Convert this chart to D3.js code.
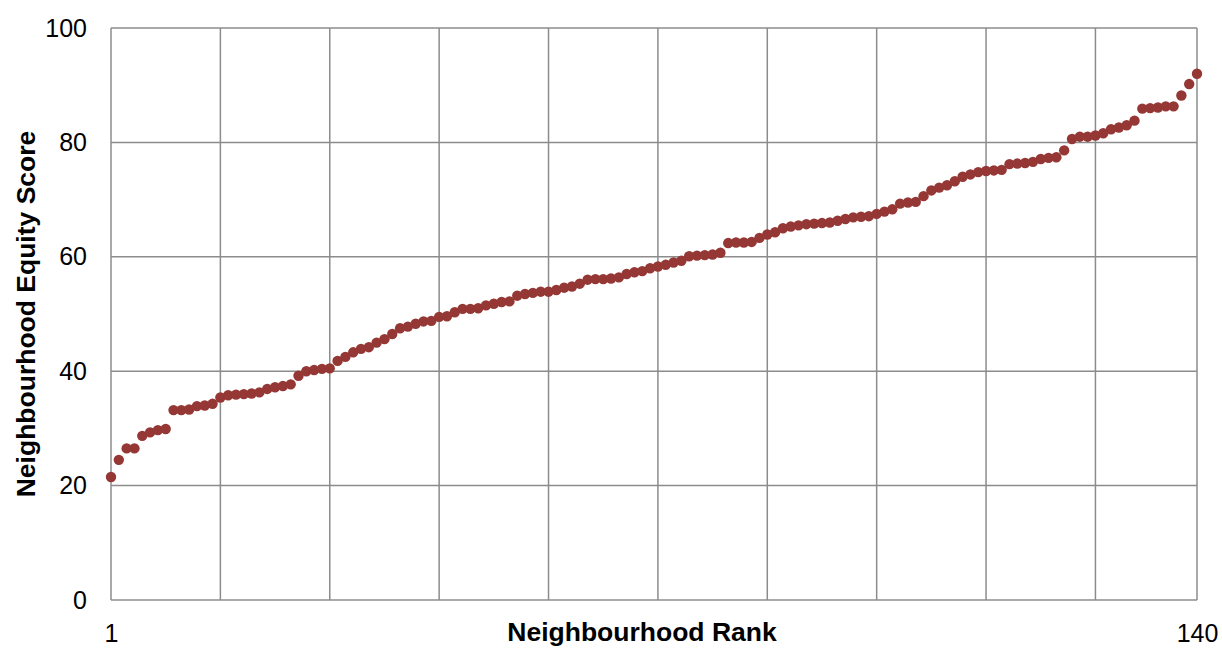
<!DOCTYPE html>
<html>
<head>
<meta charset="utf-8">
<script src="https://cdn.jsdelivr.net/npm/d3@7"></script>
<style>
  body { margin: 0; background: #fff; }
  text { font-family: "Liberation Sans", Arial, sans-serif; }
</style>
</head>
<body>
<script>
let width = 1222;
let height = 648;

// equity score per neighbourhood, sorted by rank 1..140
let scores = [
  21.5, 24.5, 26.5, 26.5, 28.7, 29.3, 29.7, 29.9, 33.2, 33.2,
  33.3, 33.9, 34.0, 34.3, 35.4, 35.8, 35.9, 36.0, 36.1, 36.3,
  36.9, 37.2, 37.4, 37.7, 39.2, 40.0, 40.2, 40.4, 40.5, 41.8,
  42.5, 43.3, 43.9, 44.2, 45.0, 45.6, 46.5, 47.5, 47.8, 48.3,
  48.7, 48.8, 49.5, 49.6, 50.3, 50.9, 50.9, 51.0, 51.5, 51.8,
  52.1, 52.2, 53.2, 53.5, 53.7, 53.9, 53.9, 54.2, 54.6, 54.8,
  55.3, 56.0, 56.1, 56.1, 56.2, 56.4, 57.0, 57.3, 57.5, 58.0,
  58.3, 58.6, 59.0, 59.3, 60.1, 60.2, 60.3, 60.4, 60.7, 62.4,
  62.5, 62.5, 62.6, 63.3, 63.9, 64.3, 65.0, 65.3, 65.5, 65.7,
  65.8, 65.9, 66.0, 66.3, 66.6, 66.9, 67.0, 67.1, 67.5, 67.9,
  68.3, 69.3, 69.5, 69.6, 70.6, 71.6, 72.1, 72.5, 73.2, 74.0,
  74.4, 74.8, 75.0, 75.1, 75.2, 76.2, 76.3, 76.4, 76.6, 77.1,
  77.3, 77.4, 78.6, 80.6, 81.0, 81.0, 81.2, 81.6, 82.3, 82.6,
  83.0, 83.8, 85.9, 86.0, 86.1, 86.3, 86.3, 88.2, 90.2, 92.0
];
let yTicks = [0, 20, 40, 60, 80, 100];
let xGrid = [1, 15, 29, 43, 57, 71, 85, 99, 113, 127, 140];
let xLabels = [1, 140];

let points = scores.map((v, i) => ({ rank: i + 1, score: v }));

let margin = { left: 111, right: 25, top: 28, bottom: 48 };

let svg = d3.select("body")
    .append("svg")
    .attr("width", width)
    .attr("height", height);

let x = d3.scaleLinear().domain([1, 140]).range([margin.left, width - margin.right]);
let y = d3.scaleLinear().domain([0, 100]).range([height - margin.bottom, margin.top]);

// grid
svg.append("g")
    .selectAll("line")
    .data(yTicks)
    .enter().append("line")
    .attr("x1", x(1)).attr("x2", x(140))
    .attr("y1", d => y(d)).attr("y2", d => y(d))
    .attr("stroke", "#8c8c8c").attr("stroke-width", 1.5);

svg.append("g")
    .selectAll("line")
    .data(xGrid)
    .enter().append("line")
    .attr("x1", d => x(d)).attr("x2", d => x(d))
    .attr("y1", y(0)).attr("y2", y(100))
    .attr("stroke", "#8c8c8c").attr("stroke-width", 1.5);

// y axis labels
let yAxis = svg.append("g")
    .attr("transform", `translate(${x(1)},0)`)
    .call(d3.axisLeft(y).tickValues(yTicks).tickSize(0).tickPadding(24));
yAxis.select(".domain").remove();
yAxis.selectAll("text")
    .attr("font-size", 25)
    .attr("font-family", "Liberation Sans, Arial, sans-serif")
    .attr("fill", "#000");

// x axis labels (only the two ends)
let xAxis = svg.append("g")
    .attr("transform", `translate(0,${y(0)})`)
    .call(d3.axisBottom(x).tickValues(xLabels).tickSize(0).tickFormat(d3.format("d")));
xAxis.select(".domain").remove();
xAxis.selectAll("text")
    .attr("y", 42)
    .attr("dy", 0)
    .attr("font-size", 25)
    .attr("font-family", "Liberation Sans, Arial, sans-serif")
    .attr("fill", "#000");

// points
svg.append("g")
    .selectAll("circle")
    .data(points)
    .enter().append("circle")
    .attr("cx", d => x(d.rank))
    .attr("cy", d => y(d.score))
    .attr("r", 5.2)
    .attr("fill", "#953735");

// axis titles
svg.append("text")
    .attr("x", 642)
    .attr("y", 641)
    .attr("text-anchor", "middle")
    .attr("font-size", 26.5)
    .attr("font-weight", "bold")
    .text("Neighbourhood Rank");

svg.append("text")
    .attr("transform", `translate(35,${(y(0) + y(100)) / 2}) rotate(-90)`)
    .attr("text-anchor", "middle")
    .attr("font-size", 26.5)
    .attr("font-weight", "bold")
    .text("Neighbourhood Equity Score");
</script>
</body>
</html>
